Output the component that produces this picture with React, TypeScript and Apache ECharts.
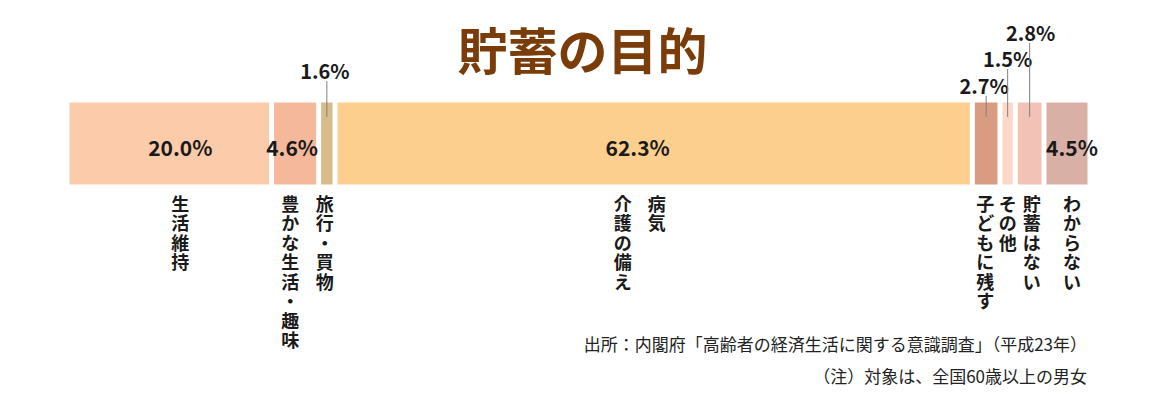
import * as echarts from 'echarts';
import { useEffect, useRef } from 'react';

// 貯蓄の目的 (内閣府 高齢者の経済生活に関する意識調査 平成23年)
const values = [20.0, 4.6, 1.6, 62.3, 2.7, 1.5, 2.8, 4.5];
const categoryColumns = [
  ['生活維持'],
  ['豊かな生活・趣味'],
  ['旅行・買物'],
  ['病気', '介護の備え'],
  ['子どもに残す'],
  ['その他'],
  ['貯蓄はない'],
  ['わからない'],
];
const sourceNotes = [
  '出所：内閣府「高齢者の経済生活に関する意識調査」（平成23年）',
  '（注）対象は、全国60歳以上の男女',
];

const colors = ['#fccbaa', '#f6b89a', '#d9bc8c', '#fdcf8e', '#d99b82', '#fcd8c8', '#f2c2b6', '#d8b0a5'];

// label placement: null = inside the bar, otherwise px above the bar top
const labelLift = [null, null, -30, null, -15, -42, -68, null];
const labelShift = [11, -3, -2, -16, -2, 0, 1, 5];
const columnShift = [[11], [-5], [-2], [3, -31], [-1], [0], [2], [5]];

const FONT = '"Noto Sans CJK JP", "Noto Sans", sans-serif';

function App() {
  const chartRef = useRef<HTMLDivElement>(null);

  useEffect(() => {
    document.body.style.margin = '0';
    const myChart = echarts.init(chartRef.current, null, { renderer: 'svg' });

    let acc = 0;
    const spans = values.map((v) => {
      const s = acc;
      acc += v;
      return [s, acc, 0];
    });

    const barSeries = values.map((v, i) => ({
      type: 'bar',
      stack: 'total',
      name: categoryColumns[i].join(''),
      data: [v],
      barWidth: '100%',
      barCategoryGap: '0%',
      itemStyle: { color: colors[i], borderColor: '#ffffff', borderWidth: 2.5 },
      silent: true,
    }));

    const option = {
      animation: false,
      title: {
        text: '貯蓄の目的',
        left: 'center',
        top: 18,
        textStyle: { fontSize: 50, fontWeight: 'bold', color: '#7a3c08', fontFamily: FONT },
      },
      grid: { left: 67, right: 75, top: 100, height: 87 },
      xAxis: { type: 'value', min: 0, max: 100, show: false },
      yAxis: { type: 'category', data: ['貯蓄の目的'], show: false },
      series: [
        ...barSeries,
        {
          type: 'custom',
          z: 10,
          data: spans,
          encode: { x: [0, 1], y: 2 },
          renderItem: (params: any, api: any) => {
            const i = params.dataIndex;
            const p0 = api.coord([api.value(0), 0]);
            const p1 = api.coord([api.value(1), 0]);
            const band = api.size([0, 1])[1];
            const cx = (p0[0] + p1[0]) / 2;
            const top = p0[1] - band / 2;
            const bottom = p0[1] + band / 2;
            const children: any[] = [];
            const label = values[i].toFixed(1) + '%';
            const lift = labelLift[i];
            if (lift === null) {
              children.push({
                type: 'text',
                x: cx + labelShift[i],
                y: p0[1] + 3,
                style: {
                  text: label,
                  fill: '#1a1a1a',
                  font: `bold 21px ${FONT}`,
                  align: 'center',
                  verticalAlign: 'middle',
                },
              });
            } else {
              children.push({
                type: 'line',
                shape: { x1: cx, y1: top + lift + 11, x2: cx, y2: top + 17 },
                style: { stroke: '#808080', lineWidth: 1 },
              });
              children.push({
                type: 'text',
                x: cx + labelShift[i],
                y: top + lift,
                style: {
                  text: label,
                  fill: '#1a1a1a',
                  font: `bold 20px ${FONT}`,
                  align: 'center',
                  verticalAlign: 'middle',
                },
              });
            }
            categoryColumns[i].forEach((col, k) => {
              children.push({
                type: 'text',
                x: cx + columnShift[i][k],
                y: bottom + 6,
                style: {
                  text: col.split('').join('\n'),
                  fill: '#1a1a1a',
                  font: `bold 18px ${FONT}`,
                  lineHeight: 19.5,
                  align: 'center',
                  verticalAlign: 'top',
                },
              });
            });
            return { type: 'group', children };
          },
        },
      ],
      graphic: sourceNotes.map((t, i) => ({
        type: 'text',
        right: 78,
        top: 335 + i * 32,
        style: { text: t, fill: '#222222', font: `17px ${FONT}` },
      })),
    };

    myChart.setOption(option);

    return () => {
      myChart.dispose();
    };
  }, []);

  return <div ref={chartRef} style={{ width: '1165px', height: '408px' }}></div>;
}

export default App;
